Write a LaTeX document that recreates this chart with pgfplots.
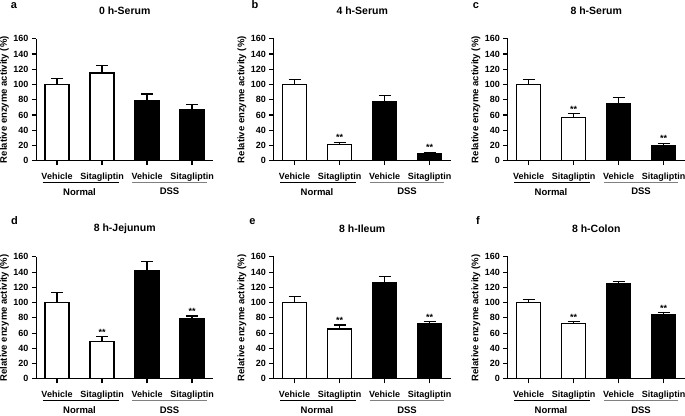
\documentclass[border=0pt]{standalone}
\usepackage{fontspec}
\setmainfont{Liberation Sans}
\usepackage{pgfplots}
\pgfplotsset{compat=1.18}
\pgfplotsset{
 panel/.style={
  scale only axis, width=176.9pt, height=122pt,
  anchor=south west,
  xmin=-0.46, xmax=3.47, ymin=0, ymax=160,
  axis x line*=bottom, axis y line*=left,
  axis line style={line width=1.1pt, -, black},
  every tick/.style={black, line width=1.1pt},
  tick align=outside, major tick length=4.5pt,
  xtick={0,1,2,3}, xticklabels={Vehicle,Sitagliptin,Vehicle,Sitagliptin},
  ytick={0,20,...,160},
  tick label style={font=\bfseries\fontsize{9}{10}\selectfont},
  xticklabel style={yshift=-4.5pt},
  /pgf/number format/assume math mode=true,
  ylabel={Relative enzyme activity (\%)},
  ylabel style={font=\bfseries\fontsize{9.5}{11}\selectfont, at={(axis description cs:-0.18,0.5)}, anchor=center},
  title style={font=\bfseries\fontsize{10.5}{12}\selectfont, at={(axis description cs:0.5,1)}, anchor=center, yshift=22pt},
  ybar, bar width=24pt, bar shift=0pt,
  clip=false,
 },
 errs/.style={error bars/.cd, y dir=plus, y explicit,
  error mark options={rotate=90, mark size=6pt, line width=1.1pt, black},
  error bar style={line width=1.1pt, black}},
 whitebar/.style={draw=black, fill=white, line width=1.1pt, errs},
 blackbar/.style={draw=black, fill=black, line width=1.1pt, errs},
}
\tikzset{
 star/.style={anchor=base, font=\bfseries\fontsize{9}{10}\selectfont, inner sep=0pt},
 grp/.style={font=\bfseries\fontsize{9.5}{11}\selectfont, anchor=center, inner sep=0pt},
 letter/.style={font=\bfseries\fontsize{11}{12}\selectfont, anchor=center, inner sep=0pt},
}
\newcommand{\groups}{%
 \draw[line width=1pt, black] ([yshift=-21.8pt]axis cs:-0.32,0) -- ([yshift=-21.8pt]axis cs:1.37,0);
 \draw[line width=1pt, gray] ([yshift=-21.8pt]axis cs:1.67,0) -- ([yshift=-21.8pt]axis cs:3.33,0);
 \node[grp] at ([yshift=-31pt]axis cs:0.5,0) {Normal};
 \node[grp] at ([yshift=-31pt]axis cs:2.5,0) {DSS};
}
\begin{document}
\begin{tikzpicture}[x=1pt,y=1pt]
\useasboundingbox (0,0) rectangle (685,-415);
% panel a
\begin{axis}[panel, at={(36.3pt,-160.7pt)}, title={0 h-Serum}]
\addplot[whitebar] coordinates {(0,100) +- (0,7.5) (1,115) +- (0,10)};
\addplot[blackbar] coordinates {(2,79.5) +- (0,8) (3,66.8) +- (0,6.5)};
\groups
\end{axis}
% panel b
\begin{axis}[panel, at={(273.8pt,-160.7pt)}, title={4 h-Serum}]
\addplot[whitebar] coordinates {(0,100) +- (0,6.5) (1,21.4) +- (0,2.5)};
\addplot[blackbar] coordinates {(2,78) +- (0,7.5) (3,9.6) +- (0,1.6)};
\node[star] at ([yshift=1.5pt]axis cs:1,23.9) {**};
\node[star] at ([yshift=1.5pt]axis cs:3,11.2) {**};
\groups
\end{axis}
% panel c
\begin{axis}[panel, at={(507.8pt,-160.7pt)}, title={8 h-Serum}]
\addplot[whitebar] coordinates {(0,100) +- (0,6.5) (1,56.8) +- (0,5)};
\addplot[blackbar] coordinates {(2,75.5) +- (0,7.5) (3,19.7) +- (0,3)};
\node[star] at ([yshift=1.5pt]axis cs:1,61.8) {**};
\node[star] at ([yshift=1.5pt]axis cs:3,22.7) {**};
\groups
\end{axis}
% panel d
\begin{axis}[panel, at={(36.3pt,-378.8pt)}, title={8 h-Jejunum}]
\addplot[whitebar] coordinates {(0,100) +- (0,13) (1,49.5) +- (0,5.7)};
\addplot[blackbar] coordinates {(2,142.5) +- (0,11) (3,78.9) +- (0,3.5)};
\node[star] at ([yshift=1.5pt]axis cs:1,55.2) {**};
\node[star] at ([yshift=1.5pt]axis cs:3,82.4) {**};
\groups
\end{axis}
% panel e
\begin{axis}[panel, at={(273.8pt,-378.8pt)}, title={8 h-Ileum}]
\addplot[whitebar] coordinates {(0,100) +- (0,8.5) (1,65.3) +- (0,5.3)};
\addplot[blackbar] coordinates {(2,126.7) +- (0,8) (3,72.8) +- (0,2.2)};
\node[star] at ([yshift=1.5pt]axis cs:1,70.6) {**};
\node[star] at ([yshift=1.5pt]axis cs:3,75) {**};
\groups
\end{axis}
% panel f
\begin{axis}[panel, at={(507.8pt,-378.8pt)}, title={8 h-Colon}]
\addplot[whitebar] coordinates {(0,100) +- (0,3.5) (1,72.3) +- (0,2.7)};
\addplot[blackbar] coordinates {(2,125) +- (0,3) (3,83.7) +- (0,2.7)};
\node[star] at ([yshift=1.5pt]axis cs:1,75) {**};
\node[star] at ([yshift=1.5pt]axis cs:3,86.4) {**};
\groups
\end{axis}
% panel letters
\node[letter] at (14,-6) {a};
\node[letter] at (255,-5) {b};
\node[letter] at (476,-6) {c};
\node[letter] at (14.5,-221) {d};
\node[letter] at (252.5,-221.5) {e};
\node[letter] at (478,-221) {f};
\end{tikzpicture}
\end{document}
